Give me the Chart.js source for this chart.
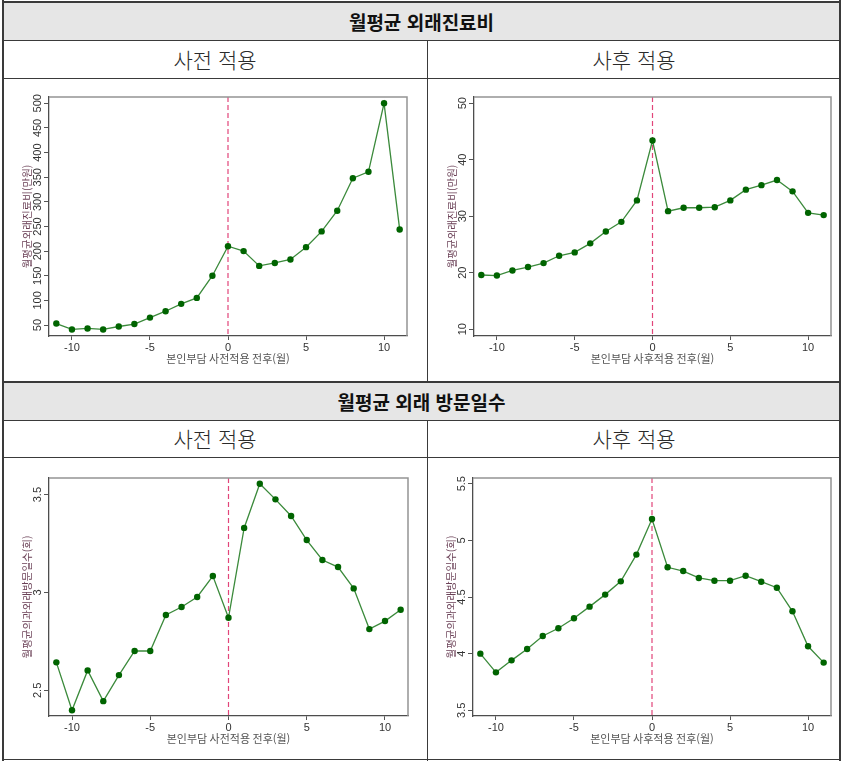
<!DOCTYPE html>
<html lang="ko">
<head>
<meta charset="utf-8">
<script src="https://cdn.jsdelivr.net/npm/chart.js@4.4.1/dist/chart.umd.min.js"></script>
<style>
  body { margin: 0; background: #fff; }
  #wrap { position: relative; width: 843px; height: 761px; overflow: hidden; font-family: "Noto Sans CJK KR", sans-serif; }
  .ln { position: absolute; background: #3a3a3a; }
  .head { position: absolute; left: 3px; width: 837px; height: 37px; background: #e6e6e6; text-align: center;
          font-weight: 700; font-size: 19px; line-height: 37px; color: #111; }
  .sub { position: absolute; height: 37px; text-align: center; font-size: 21px; font-weight: 300; line-height: 37px; color: #2a2a2a; }
  canvas { position: absolute; }
</style>
</head>
<body>
<div id="wrap">
  <div class="head" style="top:3px">월평균 외래진료비</div>
  <div class="sub" style="top:41px;left:3px;width:424px">사전 적용</div>
  <div class="sub" style="top:41px;left:428px;width:412px">사후 적용</div>
  <div class="head" style="top:383px">월평균 외래 방문일수</div>
  <div class="sub" style="top:420px;left:3px;width:424px">사전 적용</div>
  <div class="sub" style="top:420px;left:428px;width:412px">사후 적용</div>

  <canvas id="c1" width="422" height="301" style="left:4px;top:79px"></canvas>
  <canvas id="c2" width="411" height="301" style="left:428px;top:79px"></canvas>
  <canvas id="c3" width="422" height="300" style="left:4px;top:458px"></canvas>
  <canvas id="c4" width="411" height="300" style="left:428px;top:458px"></canvas>

  <div class="ln" style="left:2px;top:1px;width:839px;height:2px"></div>
  <div class="ln" style="left:2px;top:0;width:2px;height:761px"></div>
  <div class="ln" style="left:839px;top:0;width:2px;height:761px"></div>
  <div class="ln" style="left:3px;top:40px;width:837px;height:1px"></div>
  <div class="ln" style="left:3px;top:78px;width:837px;height:1px"></div>
  <div class="ln" style="left:3px;top:381px;width:837px;height:2px"></div>
  <div class="ln" style="left:3px;top:420px;width:837px;height:1px"></div>
  <div class="ln" style="left:3px;top:457px;width:837px;height:1px"></div>
  <div class="ln" style="left:3px;top:759px;width:837px;height:1px"></div>
  <div class="ln" style="left:427px;top:41px;width:1px;height:340px"></div>
  <div class="ln" style="left:427px;top:421px;width:1px;height:340px"></div>
</div>

<script>
// 적용 전후 월 (-11 ~ 11)
const months = [-11, -10, -9, -8, -7, -6, -5, -4, -3, -2, -1, 0, 1, 2, 3, 4, 5, 6, 7, 8, 9, 10, 11]

// 월평균 외래진료비(만원)
const costPre = [53, 41, 43, 41, 47, 52, 65, 78, 93, 105, 150, 210, 200, 170, 176, 183, 208, 240, 282, 348, 361, 500, 244]
const costPost = [19.6, 19.5, 20.4, 21.0, 21.7, 23.0, 23.6, 25.2, 27.3, 29.0, 32.8, 43.4, 30.9, 31.5, 31.5, 31.6, 32.8, 34.7, 35.5, 36.4, 34.4, 30.6, 30.2]

// 월평균 의과외래 방문일수(회)
const visitPre = [2.643, 2.398, 2.602, 2.445, 2.578, 2.701, 2.701, 2.885, 2.926, 2.977, 3.084, 2.871, 3.33, 3.556, 3.476, 3.391, 3.268, 3.166, 3.13, 3.021, 2.813, 2.854, 2.912]
const visitPost = [4.0, 3.835, 3.941, 4.041, 4.156, 4.224, 4.312, 4.415, 4.521, 4.638, 4.874, 5.188, 4.762, 4.729, 4.668, 4.644, 4.644, 4.688, 4.635, 4.582, 4.374, 4.065, 3.921]

const xTicks = [-10, -5, 0, 5, 10]
const costPreTicks = [50, 100, 150, 200, 250, 300, 350, 400, 450, 500]
const costPostTicks = [10, 20, 30, 40, 50]
const visitPreTicks = [2.5, 3, 3.5]
const visitPostTicks = [3.5, 4, 4.5, 5, 5.5]

const numFont = '"Liberation Sans", Arial, sans-serif'
const krFont = '"Noto Sans CJK KR", sans-serif'

// 점선(0월), 바깥 테두리, 세로 눈금 글자, 축 제목
const panelDeco = {
    id: "panelDeco",
    beforeDatasetsDraw(chart) {
        const { ctx, chartArea: a, scales: { x } } = chart
        const px = x.getPixelForValue(0)
        ctx.save()
        ctx.strokeStyle = "#e2457a"
        ctx.lineWidth = 1.2
        ctx.setLineDash([5, 3])
        ctx.beginPath()
        ctx.moveTo(px, a.top)
        ctx.lineTo(px, a.bottom)
        ctx.stroke()
        ctx.restore()
    },
    afterDraw(chart, args, opts) {
        const { ctx, chartArea: a, scales: { x, y } } = chart
        ctx.save()
        ctx.strokeStyle = "#949494"
        ctx.lineWidth = 1.5
        ctx.beginPath()
        ctx.moveTo(a.left, a.top)
        ctx.lineTo(a.right, a.top)
        ctx.lineTo(a.right, a.bottom)
        ctx.stroke()

        ctx.fillStyle = "#333"
        ctx.font = "11px " + numFont
        ctx.textAlign = "center"
        ctx.textBaseline = "middle"
        y.ticks.forEach(t => {
            ctx.save()
            ctx.translate(a.left - 11, y.getPixelForValue(t.value))
            ctx.rotate(-Math.PI / 2)
            ctx.fillText(t.label, 0, 0)
            ctx.restore()
        })

        ctx.font = "10.5px " + krFont
        ctx.fillStyle = "#6b4157"
        ctx.save()
        ctx.translate(a.left - 21.5, (a.top + a.bottom) / 2)
        ctx.rotate(-Math.PI / 2)
        ctx.fillText(opts.yTitle, 0, 0)
        ctx.restore()

        ctx.font = "11px " + krFont
        ctx.fillStyle = "#555"
        ctx.fillText(opts.xTitle, (a.left + a.right) / 2, a.bottom + 22.5)
        ctx.restore()
    }
}

const renderPanel = (id, values, yTicks, yMin, yMax, pad, yTitle, xTitle) => {
    new Chart(document.querySelector(id), {
        type: "line",
        data: {
            datasets: [
                {
                    data: months.map((m, i) => ({ x: m, y: values[i] })),
                    borderColor: "#3b8a3b",
                    borderWidth: 1.3,
                    pointBackgroundColor: "#006400",
                    pointBorderColor: "#006400",
                    pointRadius: 3.2,
                    pointBorderWidth: 0,
                    tension: 0,
                },
            ],
        },
        plugins: [panelDeco],
        options: {
            responsive: false,
            animation: false,
            events: [],
            layout: { padding: { top: pad.top, right: pad.right, left: 0, bottom: 0 } },
            plugins: {
                legend: { display: false },
                tooltip: { enabled: false },
                panelDeco: { yTitle: yTitle, xTitle: xTitle },
            },
            scales: {
                x: {
                    type: "linear",
                    min: -11.47,
                    max: 11.47,
                    afterBuildTicks: s => { s.ticks = xTicks.map(v => ({ value: v })) },
                    afterFit: s => { s.height = pad.bottom },
                    ticks: { color: "#333", font: { family: numFont, size: 11 }, padding: 1, callback: v => String(v) },
                    grid: { drawOnChartArea: false, color: "#555", tickLength: 4 },
                    border: { color: "#4d4d4d", width: 1.3 },
                },
                y: {
                    min: yMin,
                    max: yMax,
                    afterBuildTicks: s => { s.ticks = yTicks.map(v => ({ value: v })) },
                    afterFit: s => { s.width = pad.left },
                    ticks: { display: false, callback: v => String(v) },
                    grid: { drawOnChartArea: false, color: "#555", tickLength: 5 },
                    border: { color: "#4d4d4d", width: 1.3 },
                },
            },
        },
    })
}

const xPre = "본인부담 사전적용 전후(월)"
const xPost = "본인부담 사후적용 전후(월)"
const yCost = "월평균외래진료비(만원)"
const yVisit = "월평균의과외래방문일수(회)"

renderPanel("#c1", costPre, costPreTicks, 27.7, 512.8, { top: 18, right: 19, left: 45, bottom: 44 }, yCost, xPre)
renderPanel("#c2", costPost, costPostTicks, 8.8, 51.1, { top: 18, right: 8, left: 46, bottom: 44 }, yCost, xPost)
renderPanel("#c3", visitPre, visitPreTicks, 2.369, 3.585, { top: 20, right: 18, left: 45, bottom: 42 }, yVisit, xPre)
renderPanel("#c4", visitPost, visitPostTicks, 3.45, 5.55, { top: 20, right: 8, left: 45, bottom: 42 }, yVisit, xPost)
</script>
</body>
</html>
